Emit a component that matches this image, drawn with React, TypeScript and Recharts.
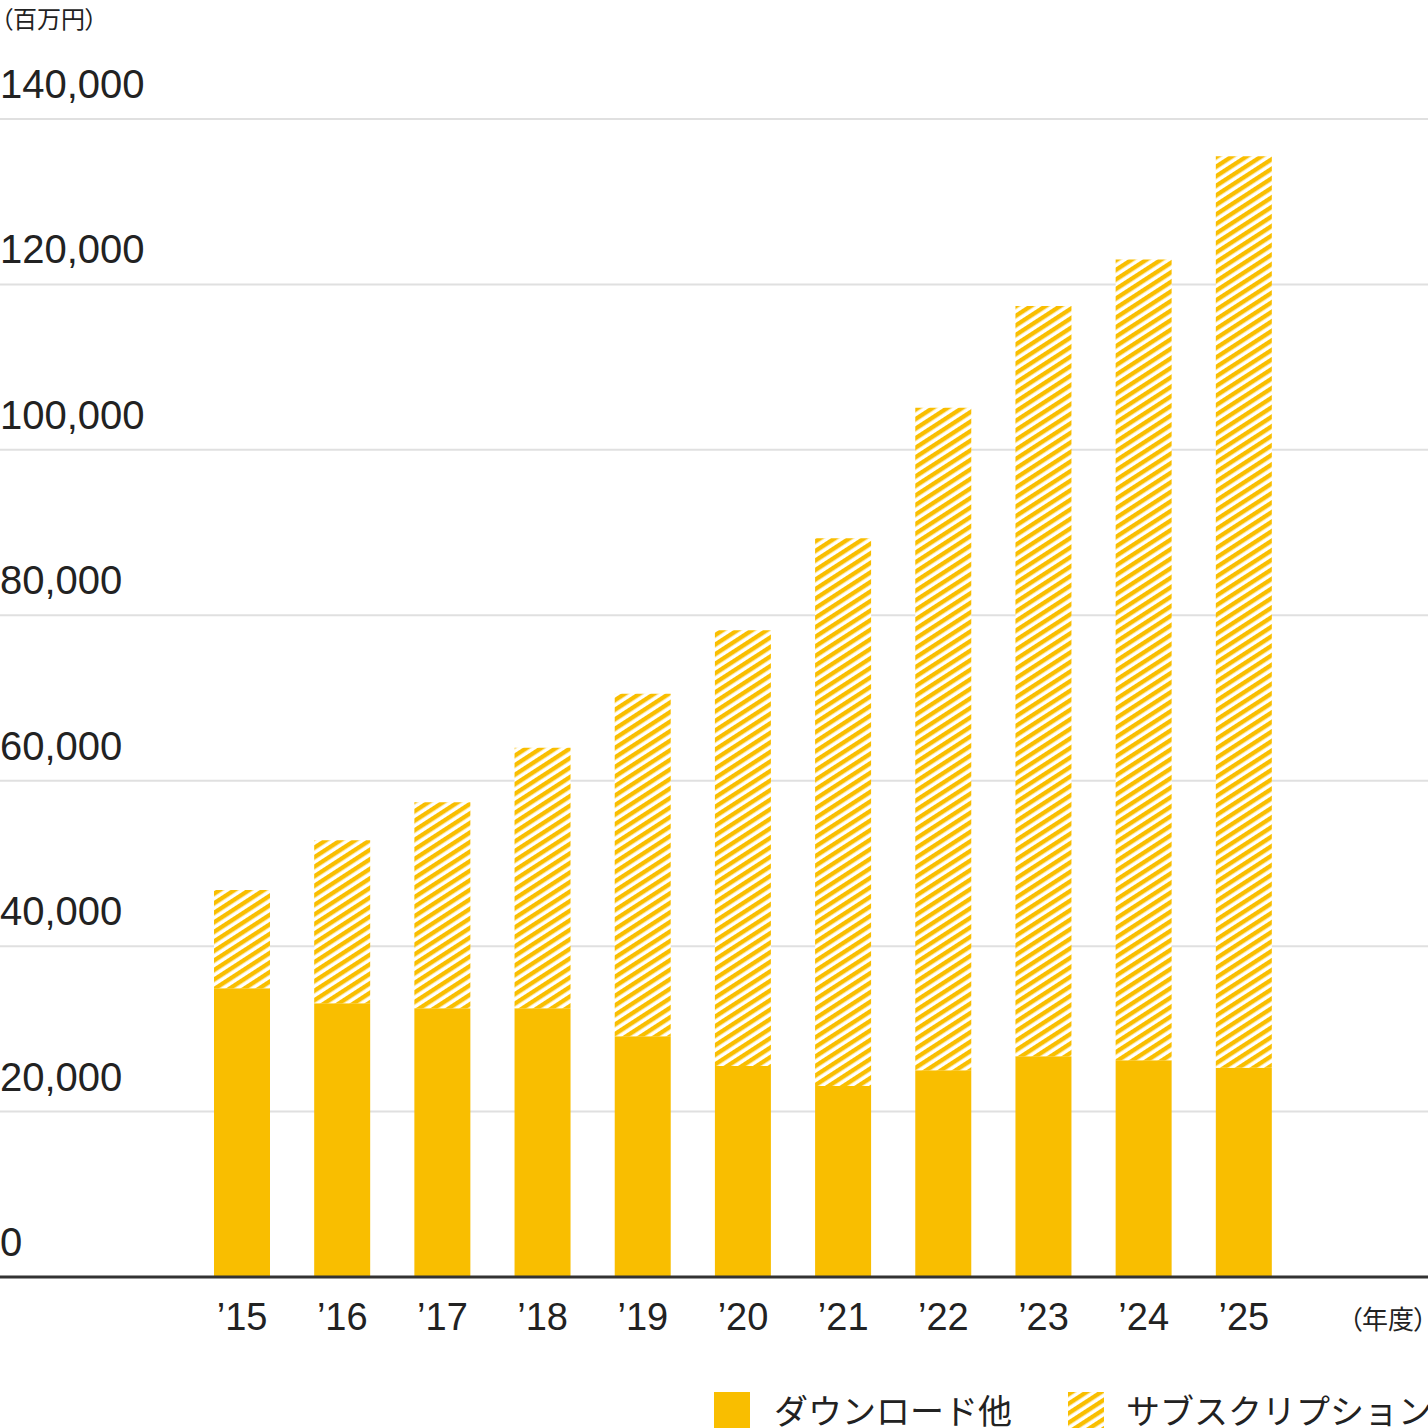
import { BarChart, Bar, XAxis, YAxis, CartesianGrid } from "recharts";

const years = ["’15", "’16", "’17", "’18", "’19", "’20", "’21", "’22", "’23", "’24", "’25"];
// 百万円
const download = [34900, 33100, 32500, 32500, 29100, 25500, 23100, 25000, 26700, 26200, 25300];
const subscription = [11900, 19700, 24900, 31500, 41400, 52700, 66200, 80100, 90700, 96800, 110200];
const yTicks = [0, 20000, 40000, 60000, 80000, 100000, 120000, 140000];

const data = years.map((year, i) => ({
  year,
  download: download[i],
  subscription: subscription[i],
}));

const YELLOW = "#f9be00";
const TEXT = "#222";
const FONT = "'Liberation Sans', Arial, 'Noto Sans CJK JP', sans-serif";
const JP_FONT = "'Noto Sans CJK JP', sans-serif";
const PALT = { fontFeatureSettings: '"palt"' };

const YTick = (props: any) => {
  const { y, payload } = props;
  return (
    <text x={0} y={y - 21} fill={TEXT} fontSize={40} fontFamily={FONT} textAnchor="start">
      {payload.value.toLocaleString("en-US")}
    </text>
  );
};

const XTick = (props: any) => {
  const { x, y, payload } = props;
  return (
    <text x={x} y={y + 45} fill={TEXT} fontSize={38} fontFamily={FONT} textAnchor="middle">
      {payload.value}
    </text>
  );
};

const Hatch = ({ id }: { id: string }) => (
  <pattern id={id} patternUnits="userSpaceOnUse" width="8" height="8" patternTransform="rotate(-33)">
    <rect width="8" height="8" fill="#fff" />
    <rect width="8" height="4.4" fill={YELLOW} />
  </pattern>
);

export default function App() {
  return (
    <div style={{ position: "absolute", left: 0, top: 0, width: 1428, height: 1428, overflow: "hidden", background: "#fff" }}>
      <BarChart
        width={1428}
        height={1428}
        data={data}
        margin={{ top: 119, right: 0, left: -1, bottom: 91 }}
        barSize={56}
      >
        <defs>
          <Hatch id="hatch" />
        </defs>
        <CartesianGrid vertical={false} stroke="#e0e0e0" strokeWidth={2} />
        <XAxis
          dataKey="year"
          height={60}
          padding={{ left: 192, right: 134 }}
          axisLine={{ stroke: "#333", strokeWidth: 3 }}
          tickLine={false}
          tick={<XTick />}
          interval={0}
        />
        <YAxis
          width={1}
          domain={[0, 140000]}
          ticks={yTicks}
          axisLine={false}
          tickLine={false}
          tick={<YTick />}
          interval={0}
        />
        <Bar dataKey="download" stackId="a" fill={YELLOW} isAnimationActive={false} />
        <Bar dataKey="subscription" stackId="a" fill="url(#hatch)" isAnimationActive={false} />
        <text x={1} y={28} fill={TEXT} fontSize={24} fontFamily={JP_FONT} style={PALT}>
          （百万円）
        </text>
        <text x={1427} y={1329} fill={TEXT} fontSize={26} fontFamily={JP_FONT} textAnchor="end" style={PALT}>
          （年度）
        </text>
      </BarChart>
      <div
        style={{
          position: "absolute",
          left: 714,
          top: 1392,
          display: "flex",
          alignItems: "flex-start",
          whiteSpace: "nowrap",
          fontFamily: JP_FONT,
          fontSize: 34,
          color: TEXT,
          lineHeight: "36px",
        }}
      >
        <svg width={36} height={36} style={{ display: "block" }}>
          <rect width={36} height={36} fill={YELLOW} />
        </svg>
        <span style={{ marginLeft: 24, width: 294 }}>ダウンロード他</span>
        <svg width={36} height={36} style={{ display: "block" }}>
          <defs>
            <Hatch id="hatch-legend" />
          </defs>
          <rect width={36} height={36} fill="url(#hatch-legend)" />
        </svg>
        <span style={{ marginLeft: 22 }}>サブスクリプション</span>
      </div>
    </div>
  );
}
